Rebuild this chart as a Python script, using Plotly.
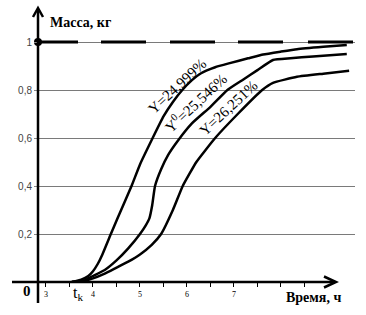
import plotly.graph_objects as go

# ---- data ----
time_1 = [3.55, 3.75, 3.9, 4.0, 4.1, 4.2, 4.38, 4.52, 4.82, 5.0, 5.27, 5.5, 5.7, 5.9, 6.1, 6.3, 6.6, 6.91, 7.3, 7.62, 8.0, 8.34, 8.9, 9.4]
mass_1 = [0, 0.01, 0.025, 0.045, 0.075, 0.115, 0.20, 0.265, 0.40, 0.49, 0.60, 0.69, 0.75, 0.80, 0.84, 0.87, 0.895, 0.912, 0.932, 0.948, 0.96, 0.97, 0.98, 0.988]

time_2 = [3.55, 3.8, 4.0, 4.25, 4.5, 4.75, 5.0, 5.12, 5.2, 5.26, 5.32, 5.45, 5.6, 5.81, 6.1, 6.5, 6.86, 7.2, 7.5, 7.83, 8.2, 8.68, 9.4]
mass_2 = [0, 0.005, 0.025, 0.05, 0.09, 0.14, 0.20, 0.235, 0.265, 0.32, 0.40, 0.47, 0.53, 0.59, 0.66, 0.73, 0.80, 0.844, 0.883, 0.925, 0.932, 0.94, 0.95]

time_3 = [3.55, 3.8, 4.0, 4.25, 4.5, 4.75, 5.0, 5.25, 5.45, 5.7, 5.91, 6.2, 6.6, 7.08, 7.6, 7.83, 8.34, 8.9, 9.45]
mass_3 = [0, 0.004, 0.015, 0.035, 0.06, 0.085, 0.115, 0.155, 0.20, 0.30, 0.40, 0.50, 0.60, 0.70, 0.80, 0.83, 0.855, 0.868, 0.88]

series_labels = ["Y=24,999%", "Y<sup>0</sup>=25,546%", "Y=26,251%"]
label_pos_t = [5.8, 6.18, 6.88]
label_pos_m = [0.815, 0.75, 0.725]

y_tick_vals = [0.2, 0.4, 0.6, 0.8, 1.0]
y_tick_text = ["0,2", "0,4", "0,6", "0,8", "1"]
x_tick_vals = [3, 4, 5, 6, 7]
x_tick_text = ["3", "4", "5", "6", "7"]
x_minor_ticks = [3.5, 4.5, 5.5, 6.5, 7.5, 8, 8.5]
t_k = 3.55
asymptote = 1.0

# ---- layout geometry ----
W, H = 366, 315
X_RANGE = [2.83, 9.575]
Y_RANGE = [0, 1.1417]
SERIF = "Liberation Serif, Times New Roman, serif"
SANS = "Liberation Sans, Arial, sans-serif"


def px(x):
    return x / W


def py(y):
    return 1 - y / H


fig = go.Figure()

# asymptote (dashed) at mass = 1
fig.add_trace(go.Scatter(
    x=X_RANGE, y=[asymptote, asymptote], mode="lines",
    line=dict(color="black", width=3,
              dash="40px,23px,45px,24px,45px,23px,45px,25px,45px,30px"),
    hoverinfo="skip", showlegend=False))

for t, m in [(time_1, mass_1), (time_2, mass_2), (time_3, mass_3)]:
    fig.add_trace(go.Scatter(
        x=t, y=m, mode="lines",
        line=dict(color="black", width=2.5, shape="spline", smoothing=0.4),
        hoverinfo="skip", showlegend=False))

# dot where asymptote meets the mass axis
fig.add_trace(go.Scatter(
    x=[X_RANGE[0]], y=[asymptote], mode="markers",
    marker=dict(color="black", size=8), cliponaxis=False,
    hoverinfo="skip", showlegend=False))

annotations = []
for lab, lt, lm in zip(series_labels, label_pos_t, label_pos_m):
    annotations.append(dict(
        x=lt, y=lm, xref="x", yref="y", text=lab, showarrow=False,
        xanchor="center", yanchor="middle",
        textangle=-43, font=dict(family=SERIF, size=15, color="black")))


def txt(x, y, text, size, xanchor="center"):
    return dict(x=px(x), y=py(y), xref="paper", yref="paper", text=text,
                showarrow=False, xanchor=xanchor, yanchor="middle",
                font=dict(family=SERIF, size=size, color="black"))


annotations.append(txt(27, 291, "<b>0</b>", 15))
annotations.append(dict(
    x=t_k, y=py(293), xref="x", yref="paper", text="t<sub>k</sub>",
    xanchor="left", yanchor="middle", xshift=-1,
    showarrow=False, font=dict(family=SERIF, size=16, color="black")))
annotations.append(txt(48, 23, "<b>Масса, кг</b>", 14, "left"))
annotations.append(txt(284, 297, "<b>Время, ч</b>", 14, "left"))

shapes = [
    # mass axis (vertical) with arrow
    dict(type="line", xref="paper", yref="paper", x0=px(38), x1=px(38),
         y0=py(303), y1=py(9), line=dict(color="black", width=2.5)),
    dict(type="path", xref="paper", yref="paper",
         path=f"M{px(33)},{py(17)} L{px(38)},{py(8)} L{px(43)},{py(17)}",
         line=dict(color="black", width=2.5)),
    # time axis (horizontal) with arrow
    dict(type="line", xref="paper", yref="paper", x0=px(12), x1=px(335),
         y0=py(282), y1=py(282), line=dict(color="black", width=2.5)),
    dict(type="path", xref="paper", yref="paper",
         path=f"M{px(324)},{py(276.5)} L{px(336)},{py(282)} L{px(324)},{py(287.5)}",
         line=dict(color="black", width=2.5)),
]

fig.update_layout(
    width=W, height=H,
    margin=dict(l=0, r=0, t=0, b=0),
    paper_bgcolor="white", plot_bgcolor="white",
    xaxis=dict(domain=[38 / W, 355 / W], range=X_RANGE,
               tickvals=x_tick_vals, ticktext=x_tick_text,
               ticks="outside", ticklen=4, tickwidth=1.3, tickcolor="black",
               minor=dict(tickvals=x_minor_ticks, ticks="outside", ticklen=4,
                          tickwidth=1.3, tickcolor="black", showgrid=False),
               tickfont=dict(family=SERIF, size=8, color="black"),
               showgrid=False, zeroline=False, showline=False, fixedrange=True),
    yaxis=dict(domain=[1 - 282 / H, 1 - 8 / H], range=Y_RANGE,
               tickvals=y_tick_vals, ticktext=y_tick_text,
               ticks="outside", ticklen=3, tickcolor="#888",
               tickfont=dict(family=SANS, size=10, color="#444"),
               showgrid=True, gridcolor="#7a7a7a", gridwidth=1.2,
               zeroline=False, showline=False, fixedrange=True),
    annotations=annotations,
    shapes=shapes,
)

fig.write_html("out.html", config={"displayModeBar": False},
               post_script="document.body.style.margin='0';document.body.style.padding='0';")
